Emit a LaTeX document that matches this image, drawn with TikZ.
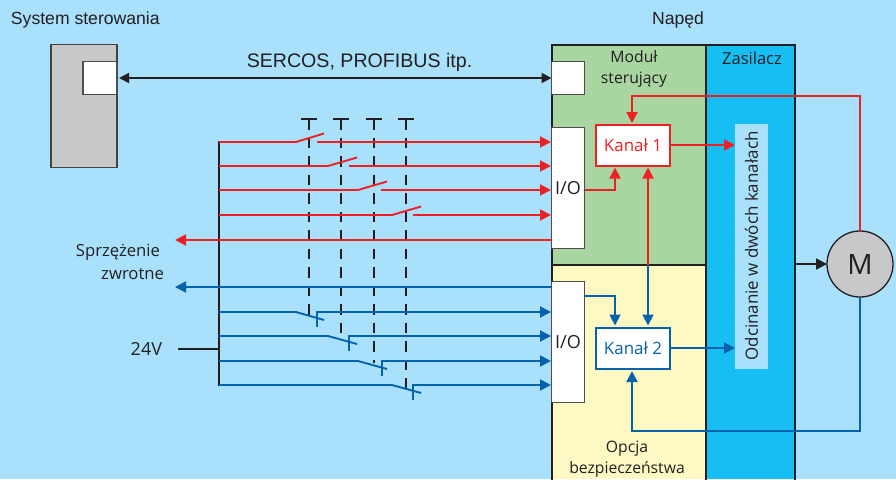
\documentclass[tikz,border=0pt]{standalone}
\usepackage{fontspec}
\setmainfont{Open Sans}
\newfontfamily\labelfont{Liberation Sans}
\usetikzlibrary{arrows.meta}
\definecolor{bgblue}{HTML}{A9E0FC}
\definecolor{cyanbox}{HTML}{16BEF4}
\definecolor{greenbox}{HTML}{A9D5A0}
\definecolor{yellowbox}{HTML}{FEF9C3}
\definecolor{redline}{HTML}{ED2024}
\definecolor{blueline}{HTML}{0563AB}
\definecolor{darkline}{HTML}{231F20}
\definecolor{greybox}{HTML}{C7C8CA}
\newdimen\pxu \pxu=0.75pt
\tikzset{x=\pxu,y=-\pxu,
 every node/.style={inner sep=0pt,outer sep=0pt,text=darkline,font=\fontsize{12.7pt}{14pt}\selectfont,align=center},
 frame/.style={draw=darkline,line width=2.2\pxu},
 rtip/.style={-{Triangle[length=8.25pt,width=8.25pt]}},
 ltip/.style={{Triangle[length=8.25pt,width=8.25pt]}-},
 bothtip/.style={{Triangle[length=7.5pt,width=7.5pt]}-{Triangle[length=7.5pt,width=7.5pt]}},
 redw/.style={draw=redline,line width=1.9\pxu},
 bluew/.style={draw=blueline,line width=1.9\pxu},
 blk/.style={draw=darkline,line width=1.9\pxu},
 dashv/.style={draw=darkline,line width=1.9\pxu,dash pattern=on 10.5\pxu off 8\pxu},
 whitebox/.style={draw=darkline!80,line width=1.3\pxu,fill=white},
 sanslabel/.style={font=\labelfont\fontsize{13.2pt}{14pt}\selectfont},
 panellabel/.style={font=\fontsize{11.8pt}{16pt}\selectfont},
}
\begin{document}
\begin{tikzpicture}
\useasboundingbox (0,0) rectangle (896,479);
\fill[bgblue] (0,0) rectangle (896,479);
% panels
\path[fill=greenbox] (552,45) rectangle (706,265);
\path[fill=yellowbox] (552,265) rectangle (706,479);
\path[fill=cyanbox] (706,45) rectangle (795,479);
\draw[frame] (552,480) -- (552,45) -- (795,45) -- (795,480);
\draw[frame] (706,45) -- (706,480);
\draw[frame] (552,265) -- (706,265);
% system
\node[draw=darkline!85,line width=1.3\pxu,fill=greybox,minimum width=66\pxu,minimum height=123\pxu] (sys) at (84,106) {};
\node[whitebox,minimum width=34\pxu,minimum height=33\pxu] (sysport) at (100,78) {};
\node[whitebox,minimum width=33\pxu,minimum height=33\pxu] (drvport) at (568,78) {};
\draw[draw=darkline,line width=1.9\pxu,shorten <=2\pxu,bothtip] (sysport.east) -- (drvport.west);
\node[whitebox,minimum width=33\pxu,minimum height=121\pxu] (io1) at (568,188) {};
\node[whitebox,minimum width=33\pxu,minimum height=121\pxu] (io2) at (568,342) {};
\node[font=\fontsize{13.5pt}{14pt}\selectfont] (io1t) at (568,188) {I/O};
\node[font=\fontsize{13.5pt}{14pt}\selectfont] (io2t) at (568,342) {I/O};
\node[draw=redline,line width=2\pxu,fill=white,minimum width=74\pxu,minimum height=41\pxu,text=redline] (k1) at (633,145) {Kanał 1};
\node[draw=blueline,line width=2\pxu,fill=white,minimum width=74\pxu,minimum height=41\pxu,text=blueline] (k2) at (633,348) {Kanał 2};
\node[fill=bgblue,minimum width=33\pxu,minimum height=245\pxu] (odc) at (751.5,246.5) {};
\node[rotate=90] (odct) at (751.5,246) {Odcinanie w dwóch kanałach};
\node[circle,draw=darkline,line width=1.3\pxu,fill=greybox,minimum size=66\pxu,font=\fontsize{21pt}{22pt}\selectfont] (m) at (860,264) {M};
% labels
\node[anchor=west,sanslabel] (t1) at (11,20) {System sterowania};
\node[sanslabel] (t2) at (678,20) {Napęd};
\node[font=\labelfont\fontsize{14.7pt}{16pt}\selectfont] (t3) at (359.5,62) {SERCOS, PROFIBUS itp.};
\node[panellabel] (t4) at (634,69) {Moduł\\sterujący};
\node[font=\fontsize{12.4pt}{14pt}\selectfont] (t5) at (752,58) {Zasilacz};
\node[panellabel] (t6) at (627,459) {Opcja\\bezpieczeństwa};
\node[anchor=east,align=right,font=\fontsize{12.5pt}{17.2pt}\selectfont] (t7) at (164,262) {Sprzężenie\hspace*{4\pxu}\\zwrotne};
\node[anchor=east,font=\fontsize{13.5pt}{14pt}\selectfont] (t8) at (162,349) {24V};
% bus
\coordinate (bt) at (219,141);\coordinate (bb) at (219,386);\coordinate (b24) at (219,349);
\coordinate (v24) at (178,349);
\draw[blk] (bt) -- (bb);
\draw[blk] (v24) -- (b24);
% dashed verticals with T heads
\foreach \x/\yy in {309/315,341/334,374/363,406/392}{
 \draw[blk] (\x-8,119) -- (\x+8,119);
 \draw[dashv] (\x,119) -- (\x,\yy);
}
% red switches
\foreach \ya/\xa/\xb/\xc in {142/296/324/317, 166/328/357/349, 190/358/387/381, 215/392/421/413}{
 \draw[redw] (219,\ya) -- (\xa,\ya) -- (\xb,\ya-8.5);
 \draw[redw,rtip] (\xc,\ya) -- (551,\ya);
}
% blue switches
\foreach \ya/\xa/\xb/\xc in {312/296/324/317, 336/328/357/349, 361/358/387/382, 385/392/421/413}{
 \draw[bluew] (219,\ya) -- (\xa,\ya) -- (\xb,\ya+8);
 \draw[bluew,rtip] (\xc,\ya+15) -- (\xc,\ya) -- (551,\ya);
}
% feedback
\coordinate (fr) at (175,240);
\coordinate (fb) at (175,287);
\draw[redw,ltip] (fr) -- (io1.west |- fr);
\draw[bluew,ltip] (fb) -- (io2.west |- fb);
% internals
\draw[redw,rtip] (k1.east) -- (odc.west |- k1.east);
\draw[bluew,rtip] (k2.east) -- (odc.west |- k2.east);
\coordinate (io1o) at (585,190);
\coordinate (io2o) at (585,296);
\coordinate (mid) at (648,265);
\draw[redw,rtip,shorten >=1.5\pxu] (io1o) -- (615,190) -- (615,166);
\draw[bluew,rtip,shorten >=1.5\pxu] (io2o) -- (615,296) -- (615,327);
\draw[redw,rtip,shorten >=1.5\pxu] (mid) -- (648,166);
\draw[bluew,rtip,shorten >=1.5\pxu] (mid) -- (648,327);
\draw[redw,rtip] (m.north) -- (860,96) -- (632,96) -- (632,123);
\draw[bluew,rtip,shorten >=2\pxu] (m.south) -- (860,431) -- (632,431) -- (632,369);
\coordinate (zr) at (795,264);
\draw[blk,rtip] (zr) -- (m.west);
\end{tikzpicture}
\end{document}
